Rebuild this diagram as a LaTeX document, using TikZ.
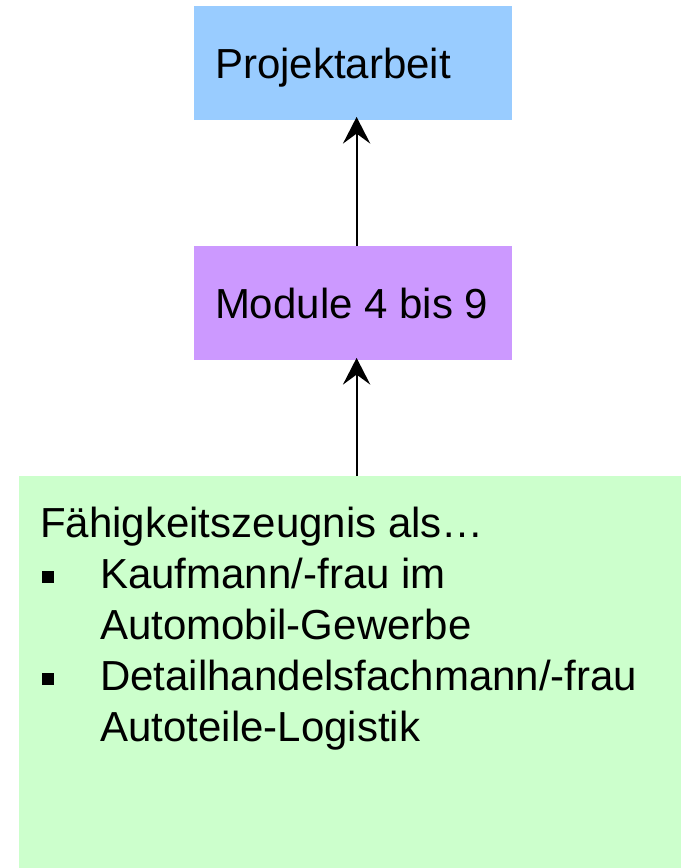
\documentclass[tikz,border=0pt]{standalone}
\usepackage{fontspec}
\setmainfont{Liberation Sans}
\usetikzlibrary{arrows.meta}
\definecolor{projblue}{HTML}{99CCFF}
\definecolor{modpurple}{HTML}{CC99FF}
\definecolor{zeuggreen}{HTML}{CCFFCC}
\newcommand\boxfont{\fontsize{31.5}{38.25}\selectfont}
\newcommand\stagetext[1]{\makebox[207pt][l]{#1}}
\newcommand\sqbullet{\makebox[45pt][l]{\hspace{1.5pt}\raisebox{4.5pt}{\rule{8.6pt}{8.6pt}}}}
\tikzset{
  stagebox/.style={rectangle, inner sep=0pt, minimum width=238.5pt, minimum height=85pt,
    text height=22.5pt, text depth=0pt, font=\boxfont},
  uparrow/.style={-{Stealth[length=20pt,width=20.5pt,inset=7.5pt]}, line width=1.5pt}
}
\begin{document}
\begin{tikzpicture}[x=0.75pt,y=-0.75pt]
				\useasboundingbox (0,0) rectangle (681,868); % Same size as the slide
				
				\node[stagebox, fill=projblue] (projekt) at (353,63) {\stagetext{Projektarbeit}};
				\node[stagebox, fill=modpurple] (module) at (353,303) {\stagetext{Module 4 bis 9}};
				\node[fill=zeuggreen, inner sep=0pt, minimum width=496.5pt, minimum height=294pt,
				anchor=north west] (zeugnis) at (19,476) {};
				% Text of the green box, with square bullets
				\node[anchor=north west, inner sep=0pt, align=left, font=\boxfont] (zeugtext)
				at (40,507) {Fähigkeitszeugnis als…\\
					\sqbullet Kaufmann/-frau im\\
					\hspace*{45pt}Automobil-Gewerbe\\
					\sqbullet Detailhandelsfachmann/-frau\\
					\hspace*{45pt}Autoteile-Logistik};
				
				\draw [uparrow] ([xshift=2.7pt]zeugnis.north -| module.south)
				-- ([xshift=2.7pt,yshift=1.5pt]module.south);
				\draw [uparrow] ([xshift=2.7pt]module.north)
				-- ([xshift=2.7pt,yshift=2.25pt]projekt.south);
				
				
\end{tikzpicture}
\end{document}
